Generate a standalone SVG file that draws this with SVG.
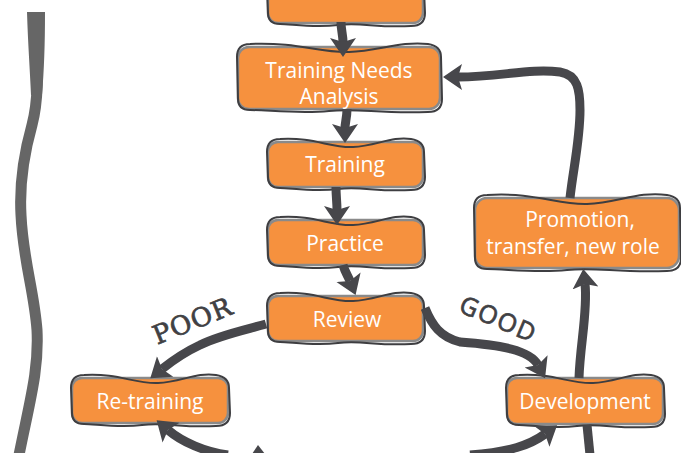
<svg xmlns="http://www.w3.org/2000/svg" width="681" height="453" viewBox="0 0 681 453">
  <style>
    .fill { fill: #F6913E; }
    .edge { fill: none; stroke: #8a8a8a; stroke-width: 2.5; }
    .sketch { fill: none; stroke: #3e3e41; stroke-width: 2; stroke-linejoin: round; }
    .lbl { font-family: "Open Sans", "Liberation Sans", sans-serif; font-size: 21px; fill: #ffffff; text-anchor: middle; }
    .link { fill: none; stroke: #47474b; stroke-width: 9; stroke-linecap: butt; }
    .tag { fill: #404043; stroke: #404043; stroke-width: 0.7; text-anchor: middle; }
    .bracket { fill: none; stroke: #666666; stroke-width: 11; }
  </style>
  <defs>
    <marker id="head" markerUnits="userSpaceOnUse" markerWidth="24" markerHeight="30" viewBox="0 -15 24 30" refX="4" refY="0" orient="auto">
      <path d="M0,-13 L19,0 L0,13 L4,0 Z" fill="#47474b"/>
    </marker>
  </defs>

  <!-- left brace -->
  <g id="brace">
    <path class="bracket" d="M36,12 C37,60 40,95 32,125 C25,150 19,180 21,215 C23,260 34,290 37,330 C39,370 30,400 19,455"/>
    <path d="M27,12 L45,12 C45,45 44,70 42,95 L31,95 C30,70 28,45 27,12 Z" fill="#666666"/>
  </g>

  <!-- process boxes -->
  <g id="node-top">
    <rect class="fill" x="268" y="-20" width="155" height="43" rx="10"/>
    <rect class="edge" x="268" y="-20" width="155" height="43" rx="10"/>
    <path class="sketch" d="M267,-10 Q267,-22 280,-22 C314,-23 330,-15 353,-16 C376,-17 392,-24 411,-22 Q424,-21 424,-10 L425,13 Q425,26 411,26 C376,28 361,22 338,25 C314,28 291,24 280,24 Q268,24 268,13 Z"/>
  </g>

  <g id="node-tna">
    <rect class="fill" x="238" y="47" width="202" height="62" rx="11"/>
    <rect class="edge" x="238" y="47" width="202" height="62" rx="11"/>
    <path class="sketch" d="M237,57 Q237,44 250,44 C299,42 319,53 349,52 C379,51 400,41 428,44 Q441,46 441,57 L442,99 Q442,112 428,112 C379,114 359,108 329,111 C299,114 268,110 250,110 Q238,110 238,99 Z"/>
    <text class="lbl" x="339" y="78">Training Needs</text>
    <text class="lbl" x="339" y="104">Analysis</text>
  </g>

  <g id="node-training">
    <rect class="fill" x="268" y="142" width="155" height="45" rx="10"/>
    <rect class="edge" x="268" y="142" width="155" height="45" rx="10"/>
    <path class="sketch" d="M267,152 Q267,139 280,139 C314,137 330,148 353,147 C376,146 392,136 411,139 Q424,141 424,152 L425,177 Q425,190 411,190 C376,192 361,186 338,189 C314,192 291,188 280,188 Q268,188 268,177 Z"/>
    <text class="lbl" x="345" y="172">Training</text>
  </g>

  <g id="node-practice">
    <rect class="fill" x="268" y="220" width="155" height="45" rx="10"/>
    <rect class="edge" x="268" y="220" width="155" height="45" rx="10"/>
    <path class="sketch" d="M267,230 Q267,217 280,217 C314,215 330,226 353,225 C376,224 392,214 411,217 Q424,219 424,230 L425,255 Q425,268 411,268 C376,270 361,264 338,267 C314,270 291,266 280,266 Q268,266 268,255 Z"/>
    <text class="lbl" x="345" y="251">Practice</text>
  </g>

  <g id="node-review">
    <rect class="fill" x="268" y="296" width="155" height="45" rx="10"/>
    <rect class="edge" x="268" y="296" width="155" height="45" rx="10"/>
    <path class="sketch" d="M267,306 Q267,293 280,293 C314,291 330,302 353,301 C376,300 392,290 411,293 Q424,295 424,306 L425,331 Q425,344 411,344 C376,346 361,340 338,343 C314,346 291,342 280,342 Q268,342 268,331 Z"/>
    <text class="lbl" x="347" y="327">Review</text>
  </g>

  <g id="node-retraining">
    <rect class="fill" x="72" y="378" width="156" height="45" rx="10"/>
    <rect class="edge" x="72" y="378" width="156" height="45" rx="10"/>
    <path class="sketch" d="M71,388 Q71,375 84,375 C119,373 134,384 158,383 C181,382 197,372 216,375 Q229,377 229,388 L230,413 Q230,426 216,426 C181,428 166,422 142,425 C119,428 95,424 84,424 Q72,424 72,413 Z"/>
    <text class="lbl" x="150" y="409">Re-training</text>
  </g>

  <g id="node-development">
    <rect class="fill" x="507" y="378" width="156" height="46" rx="10"/>
    <rect class="edge" x="507" y="378" width="156" height="46" rx="10"/>
    <path class="sketch" d="M506,388 Q506,375 519,375 C554,373 569,384 593,383 C616,382 632,372 651,375 Q664,377 664,388 L665,414 Q665,427 651,427 C616,429 601,423 577,426 C554,429 530,425 519,425 Q507,425 507,414 Z"/>
    <text class="lbl" x="585" y="409">Development</text>
  </g>

  <g id="node-promotion">
    <rect class="fill" x="475" y="198" width="204" height="70" rx="12"/>
    <rect class="edge" x="475" y="198" width="204" height="70" rx="12"/>
    <path class="sketch" d="M474,208 Q474,195 487,195 C536,192 557,205 587,204 C618,203 638,191 667,195 Q680,197 680,208 L681,258 Q681,271 667,271 C618,273 597,267 567,270 C536,273 506,269 487,269 Q475,269 475,258 Z"/>
    <text class="lbl" x="580" y="227">Promotion,</text>
    <text class="lbl" x="573" y="254">transfer, new role</text>
  </g>

  <!-- flow arrows -->
  <g id="connectors">
    <path class="link" d="M341,22 C341,30 343,35 343,42" marker-end="url(#head)"/>
    <path class="link" d="M347,109 C347,117 345,123 345,128" marker-end="url(#head)"/>
    <path class="link" d="M336,187 C336,196 337,202 337,210" marker-end="url(#head)"/>
    <path class="link" d="M343,265 C345,272 348,276 350,281" marker-end="url(#head)"/>
    <path class="link" d="M266,324 C245,330 220,335 200,345 C185,352 172,361 162,369" marker-end="url(#head)"/>
    <path class="link" d="M425,308 C432,325 440,337 460,342 C500,345 530,350 538,365" marker-end="url(#head)"/>
    <path class="link" d="M470,455 C510,452 530,445 545,434" marker-end="url(#head)"/>
    <path class="link" d="M228,455 C205,452 182,442 168,430" marker-end="url(#head)"/>
    <path d="M252,454 L258,445 L265,454 Z" fill="#47474b"/>
    <path class="link" d="M590,455 C589,445 588,435 587,425"/>
    <path class="link" d="M579,378 C580,345 588,310 585,284" marker-end="url(#head)"/>
    <path class="link" d="M570,198 C573,170 580,140 580,110 C580,90 578,75 560,72 C530,68 500,77 458,77" marker-end="url(#head)"/>
  </g>

  <!-- branch labels -->
  <text class="tag" transform="translate(196,329) rotate(-22)" font-family="'DejaVu Serif', 'Liberation Serif', serif" font-size="26" letter-spacing="1">POOR</text>
  <text class="tag" transform="translate(495,327) rotate(23)" font-family="'Open Sans', 'Liberation Sans', sans-serif" font-size="25" letter-spacing="1.5">GOOD</text>
</svg>
